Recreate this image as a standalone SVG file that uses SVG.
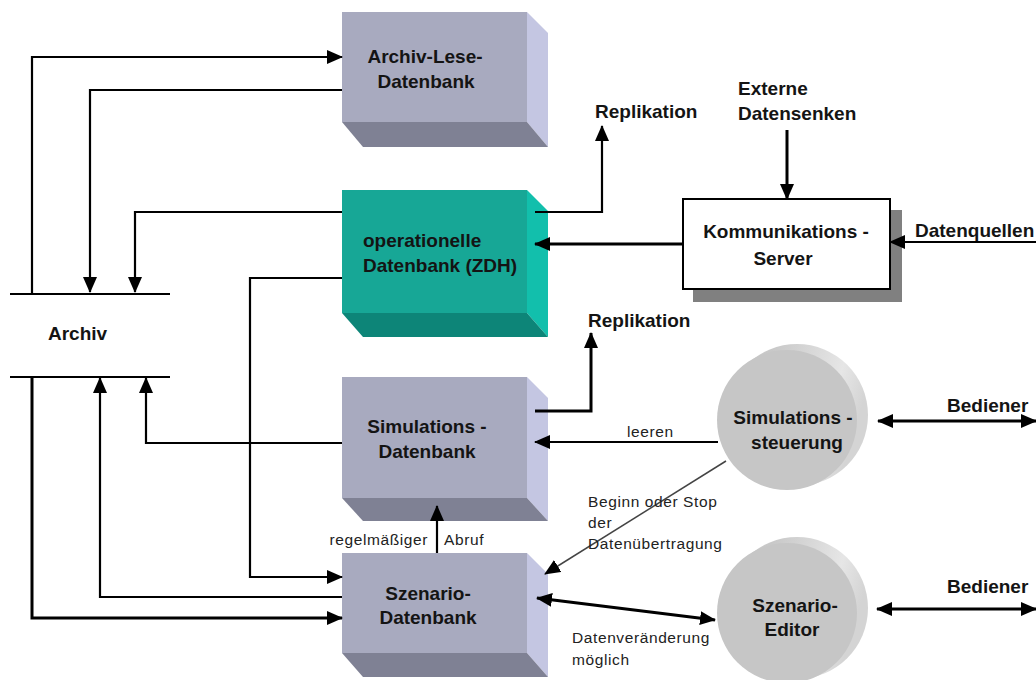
<svg xmlns="http://www.w3.org/2000/svg" width="1036" height="680" viewBox="0 0 1036 680">
<style>
.front{fill:#A8AABF}.side{fill:#C4C6E2}.bot{fill:#7F8194}
.tfront{fill:#17A796}.tside{fill:#12BFAC}.tbot{fill:#0D8578}
.lbl{font-family:"Liberation Sans",Arial,sans-serif;font-weight:bold;font-size:19px;fill:#141414}
.sm{font-family:"Liberation Sans",Arial,sans-serif;font-size:15.5px;fill:#222;letter-spacing:0.6px}
.ln{fill:none;stroke:#000;stroke-width:2.2}
.thk{fill:none;stroke:#000;stroke-width:3}
.thin{fill:none;stroke:#444;stroke-width:1.5}
</style>
<defs>
<marker id="ah" markerUnits="userSpaceOnUse" markerWidth="16" markerHeight="14" refX="15" refY="7" orient="auto-start-reverse" viewBox="0 0 16 14">
<path d="M0,0 L16,7 L0,14 z" fill="#000"/>
</marker>
<linearGradient id="rim" x1="0" y1="0" x2="1" y2="0.3">
<stop offset="0.3" stop-color="#c8c8c8"/>
<stop offset="0.8" stop-color="#e6e6e6"/>
<stop offset="1" stop-color="#d4d4d4"/>
</linearGradient>
</defs>
<rect width="1036" height="680" fill="#fff"/>

<g id="archiv">
<line x1="10" y1="294" x2="170" y2="294" stroke="#000" stroke-width="2.2"/>
<line x1="10" y1="377" x2="170" y2="377" stroke="#000" stroke-width="2.2"/>
<text class="lbl" x="48" y="340" font-size="18">Archiv</text>
</g>

<g id="archiv-lese-datenbank">
<polygon class="side" points="527,12 548,33 548,147 527,122"/>
<polygon class="bot" points="342,122 527,122 548,147 363,147"/>
<rect class="front" x="342" y="12" width="185" height="110"/>
<text class="lbl" x="425" y="63" text-anchor="middle">Archiv-Lese-</text>
<text class="lbl" x="426" y="88" text-anchor="middle">Datenbank</text>
</g>

<g id="operationelle-datenbank">
<polygon class="tside" points="527,190 548,211 548,337 527,313"/>
<polygon class="tbot" points="342,313 527,313 548,337 363,337"/>
<rect class="tfront" x="342" y="190" width="185" height="123"/>
<text class="lbl" x="363" y="247">operationelle</text>
<text class="lbl" x="363" y="272">Datenbank (ZDH)</text>
</g>

<g id="simulations-datenbank">
<polygon class="side" points="527,377 548,398 548,521 527,498"/>
<polygon class="bot" points="342,498 527,498 548,521 363,521"/>
<rect class="front" x="342" y="377" width="185" height="121"/>
<text class="lbl" x="427" y="433" text-anchor="middle">Simulations -</text>
<text class="lbl" x="427" y="458" text-anchor="middle">Datenbank</text>
</g>

<g id="szenario-datenbank">
<polygon class="side" points="527,553 548,574 548,677 527,653"/>
<polygon class="bot" points="342,653 527,653 548,677 363,677"/>
<rect class="front" x="342" y="553" width="185" height="100"/>
<text class="lbl" x="428" y="600" text-anchor="middle">Szenario-</text>
<text class="lbl" x="428" y="624" text-anchor="middle">Datenbank</text>
</g>

<g id="kommunikations-server">
<rect x="693" y="210" width="209" height="92" fill="#808080"/>
<rect x="683" y="199" width="207" height="90" fill="#fff" stroke="#000" stroke-width="2"/>
<text class="lbl" x="786" y="238" text-anchor="middle">Kommunikations -</text>
<text class="lbl" x="783" y="265" text-anchor="middle">Server</text>
</g>

<g id="simulations-steuerung">
<circle cx="797" cy="415" r="71" fill="url(#rim)"/>
<circle cx="787" cy="420" r="70" fill="#C6C6C6"/>
<text class="lbl" x="793" y="424" text-anchor="middle">Simulations -</text>
<text class="lbl" x="797" y="449" text-anchor="middle">steuerung</text>
</g>

<g id="szenario-editor">
<circle cx="797" cy="608" r="71" fill="url(#rim)"/>
<circle cx="787" cy="613" r="70" fill="#C6C6C6"/>
<text class="lbl" x="795" y="612" text-anchor="middle">Szenario-</text>
<text class="lbl" x="792" y="636" text-anchor="middle">Editor</text>
</g>

<g id="connectors">
<polyline class="ln" points="32,294 32,57 342,57" marker-end="url(#ah)"/>
<polyline class="ln" points="342,90 90,90 90,292" marker-end="url(#ah)"/>
<polyline class="ln" points="342,212 135,212 135,292" marker-end="url(#ah)"/>
<polyline class="ln" points="342,278 250,278 250,577 342,577" marker-end="url(#ah)"/>
<polyline class="ln" points="342,443 146,443 146,378" marker-end="url(#ah)"/>
<polyline class="ln" points="342,597 100,597 100,378" marker-end="url(#ah)"/>
<polyline class="thk" points="32,377 32,618 342,618" marker-end="url(#ah)"/>
<polyline class="ln" points="535,212 602,212 602,126" marker-end="url(#ah)"/>
<polyline class="thk" points="535,411 591,411 591,333" marker-end="url(#ah)"/>
<line class="thk" x1="683" y1="244" x2="535" y2="244" marker-end="url(#ah)"/>
<line class="thk" x1="787" y1="130" x2="787" y2="199" marker-end="url(#ah)"/>
<line class="ln" x1="1036" y1="242" x2="890" y2="242" marker-end="url(#ah)"/>
<line class="ln" x1="718" y1="442" x2="535" y2="442" marker-end="url(#ah)"/>
<line class="thin" x1="726" y1="461" x2="545" y2="574" marker-end="url(#ah)"/>
<line class="ln" x1="437" y1="553" x2="437" y2="506" marker-end="url(#ah)"/>
<line class="thk" x1="537" y1="598" x2="715" y2="620" marker-start="url(#ah)" marker-end="url(#ah)"/>
<line class="thk" x1="878" y1="421" x2="1036" y2="421" marker-start="url(#ah)" marker-end="url(#ah)"/>
<line class="thk" x1="877" y1="609" x2="1036" y2="609" marker-start="url(#ah)" marker-end="url(#ah)"/>
</g>

<g id="labels">
<text class="lbl" x="595" y="118">Replikation</text>
<text class="lbl" x="588" y="327">Replikation</text>
<text class="lbl" x="738" y="95">Externe</text>
<text class="lbl" x="738" y="120">Datensenken</text>
<text class="lbl" x="915" y="237">Datenquellen</text>
<text class="lbl" x="947" y="412">Bediener</text>
<text class="lbl" x="947" y="593">Bediener</text>
<text class="sm" x="627" y="437">leeren</text>
<text class="sm" x="588" y="507">Beginn oder Stop</text>
<text class="sm" x="588" y="528">der</text>
<text class="sm" x="588" y="549">Datenübertragung</text>
<text class="sm" x="428" y="545" text-anchor="end">regelmäßiger</text>
<text class="sm" x="444" y="545">Abruf</text>
<text class="sm" x="572" y="643">Datenveränderung</text>
<text class="sm" x="572" y="665">möglich</text>
</g>
</svg>
